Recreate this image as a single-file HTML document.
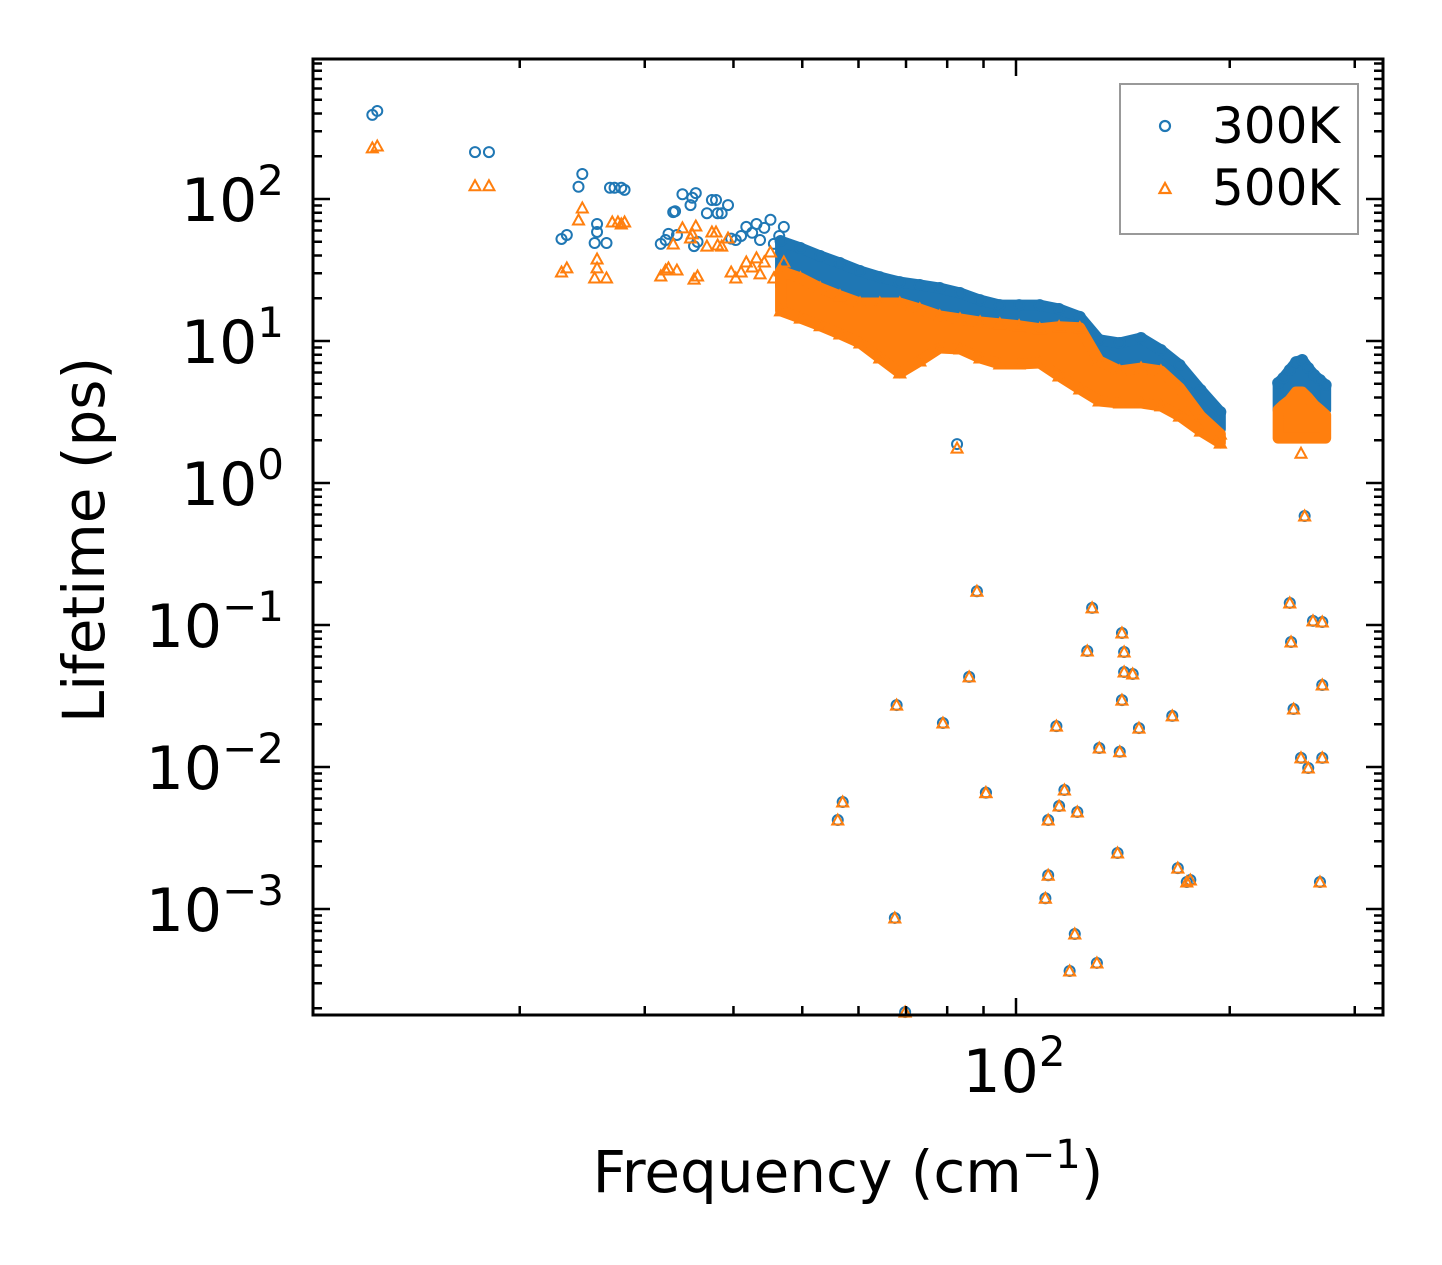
<!DOCTYPE html>
<html><head><meta charset="utf-8"><style>
html,body{margin:0;padding:0;background:#fff;}
svg{display:block;font-family:"DejaVu Sans","Liberation Sans",sans-serif;}
</style></head><body>
<svg id="chart" width="1442" height="1265" viewBox="0 0 1442 1265" xmlns="http://www.w3.org/2000/svg">
<rect x="0" y="0" width="1442" height="1265" fill="#fff"/>
<g id="marks"></g>
<g id="axes"></g>
<text x="848" y="1192" font-size="58" text-anchor="middle">Frequency (cm<tspan dy="-24" font-size="40">−1</tspan><tspan dy="24">)</tspan></text>
<text transform="translate(104,540) rotate(-90)" font-size="58" text-anchor="middle">Lifetime (ps)</text>
<g>
<rect x="1120" y="84" width="238" height="150" fill="#fff" stroke="#999" stroke-width="2"/>
<circle cx="1165" cy="126" r="5" fill="none" stroke="#1f77b4" stroke-width="2.2"/>
<text x="1212" y="143" font-size="50">300K</text>
<polygon points="1165,183 1170.5,193 1159.5,193" fill="none" stroke="#ff7f0e" stroke-width="2.2"/>
<text x="1212" y="205" font-size="50">500K</text>
</g>
</svg>
<script>
// Band frequencies (cm^-1)
const bandFreq = [46.6,49.7,53.0,56.5,60.3,64.3,68.6,73.2,78.1,83.4,89.0,94.9,101,108,115,123,131,140,150,160,170,182,194];
const clusterFreq = [234,238,243,248,253,258,263,268,273];
// 300K band edges (ps)
const band300Top = [50.6,45.2,39.7,35.4,31.1,28.2,26.0,24.8,23.6,21.8,19.4,17.9,17.9,17.9,16.8,14.8,10.2,9.68,10.5,8.64,6.78,4.52,3.16];
const band300Bottom = [24.4,21.8,18.5,16.3,14.5,14.5,14.5,13.2,11.8,11.2,10.7,10.3,10.0,9.53,9.84,9.68,5.67,4.82,5.06,4.82,3.66,2.6,2.4];
const cluster300Top = [5.06,5.49,6.25,7.1,7.35,6.45,5.76,5.31,4.9];
const cluster300Bottom = [3.27,3.27,3.27,3.27,3.27,3.27,3.27,3.27,3.27];
// 500K band edges (ps)
const band500Top = [31.1,27.8,23.6,20.8,18.5,18.5,18.5,16.8,15.0,14.3,13.6,13.2,12.8,12.2,12.6,12.4,7.23,6.15,6.45,6.15,4.67,2.96,2.21];
const band500Bottom = [16.3,14.5,12.8,11.2,9.68,7.59,5.95,7.23,8.93,8.79,7.59,6.89,6.89,7.00,5.67,4.59,3.78,3.66,3.66,3.49,2.96,2.32,1.91];
const cluster500Top = [3.27,3.54,3.84,4.37,4.37,3.97,3.54,3.27,3.01];
const cluster500Bottom = [2.07,2.07,2.07,2.07,2.07,2.07,2.07,2.07,2.07];
// sparse low-frequency points
const sparse300F = [12.4,12.6,17.3,18.1,22.9,23.3,24.2,24.5,25.7,25.7,25.5,26.5,26.8,27.2,27.8,28.1,31.6,32.1,32.4,32.9,33.1,33.3,33.9,34.8,35.0,35.4,35.2,35.6,36.7,37.3,37.8,38.0,38.5,39.3,39.7,40.3,41.0,41.7,42.5,43.1,43.6,44.2,45.1,45.6,46.4,47.1,82.6];
const sparse300L = [391,417,214,214,52.3,55.8,122,150,66.7,58.6,49,49,120,120,120,116,48.3,51.4,56.8,80.9,82,55.8,108,90.6,102,110,46.6,49.9,79.4,98.4,98.4,79.4,79.4,90.6,52.6,51.4,54.9,63.6,57.8,66.7,51.4,62.6,71.4,48.3,54.9,63.6,1.88];
const sparse500F = [12.4,12.6,17.3,18.1,22.9,23.3,24.2,24.5,25.7,25.7,25.5,26.5,27.0,27.5,27.8,28.1,31.6,32.1,32.4,32.9,33.3,33.9,34.8,35.0,35.4,35.2,35.6,36.7,37.3,37.8,38.0,38.5,39.3,39.7,40.3,41.0,41.7,42.5,43.1,43.6,44.2,45.1,45.6,46.4,47.1,82.6,252];
const sparse500L = [229,236,124,124,30.6,32.7,71.1,86.5,37.8,32.7,27.8,27.8,68.9,68.9,66.7,68.9,28.7,31.6,32.7,48.2,31.6,62.6,53.1,56.8,64.5,27.3,28.7,46.6,58.6,58.6,47.4,46.6,53.1,30.6,27.8,30.6,36.0,33.2,38.5,29.7,36.0,42.3,27.8,31.6,36.0,1.76,1.62];
// sparse very-short lifetime points (both temperatures)
const lowF = [90.7,88.1,85.9,78.9,90.7,67.9,56.1,57.0,67.5,69.8,114,111,115,117,122,111,110,121,119,130,126,128,131,140,141,141,142,142,146,149,139,166,169,174,176,255,243,244,246,252,258,262,270,270,270,268];
const low300 = [0.0066,0.173,0.0431,0.0204,0.0066,0.0273,0.00423,0.00567,0.000865,0.000188,0.0194,0.00423,0.00531,0.00689,0.00482,0.00173,0.00119,0.000667,0.000366,0.000417,0.0656,0.132,0.0136,0.0128,0.0296,0.0879,0.0646,0.0467,0.0452,0.0188,0.00248,0.0229,0.00194,0.00155,0.0016,0.586,0.143,0.0759,0.0256,0.0116,0.00984,0.107,0.105,0.0378,0.0116,0.00155];
const low500 = low300;

const NS = "http://www.w3.org/2000/svg";
const X0 = 313, X1 = 1383, Y0 = 59, Y1 = 1015;
const xLogMin = 2 + (X0 - 1016) / 710, xLogMax = 2 + (X1 - 1016) / 710;
const yLogMax = 2 + (199 - Y0) / 142, yLogMin = -3 - (Y1 - 909) / 142;
function xScale(f){ return X0 + (Math.log10(f) - xLogMin) / (xLogMax - xLogMin) * (X1 - X0); }
function yScale(v){ return Y1 - (Math.log10(v) - yLogMin) / (yLogMax - yLogMin) * (Y1 - Y0); }

const marks = document.getElementById('marks');
function circle(f, v){
  const c = document.createElementNS(NS, 'circle');
  c.setAttribute('cx', xScale(f)); c.setAttribute('cy', yScale(v)); c.setAttribute('r', 5);
  c.setAttribute('fill', 'none'); c.setAttribute('stroke', '#1f77b4'); c.setAttribute('stroke-width', 2);
  
  
  marks.appendChild(c);
}
function tri(f, v){
  const x = xScale(f), y = yScale(v);
  const p = document.createElementNS(NS, 'polygon');
  p.setAttribute('points', `${x},${y-5.5} ${x+5.5},${y+4.5} ${x-5.5},${y+4.5}`);
  p.setAttribute('fill', 'none'); p.setAttribute('stroke', '#ff7f0e'); p.setAttribute('stroke-width', 2);
  
  
  marks.appendChild(p);
}
function band(fs, top, bottom, color, name){
  const pts = [];
  for (let i = 0; i < fs.length; i++) pts.push(xScale(fs[i]) + ',' + yScale(top[i]));
  for (let i = fs.length - 1; i >= 0; i--) pts.push(xScale(fs[i]) + ',' + yScale(bottom[i]));
  const p = document.createElementNS(NS, 'polygon');
  p.setAttribute('points', pts.join(' '));
  p.setAttribute('fill', color); p.setAttribute('stroke', color);
  p.setAttribute('stroke-width', 11); p.setAttribute('stroke-linejoin', 'round');
  
  
  marks.appendChild(p);
}
function drawPairs(fs, vs, fn){ for (let i = 0; i < fs.length && i < vs.length; i++) fn(fs[i], vs[i]); }
// 300K
drawPairs(sparse300F, sparse300L, circle);
band(bandFreq, band300Top, band300Bottom, '#1f77b4', 'band-300k');
band(clusterFreq, cluster300Top, cluster300Bottom, '#1f77b4', 'cluster-300k');
drawPairs(bandFreq, band300Top, circle);
drawPairs(clusterFreq, cluster300Top, circle);
drawPairs(lowF, low300, circle);
// 500K
drawPairs(sparse500F, sparse500L, tri);
band(bandFreq, band500Top, band500Bottom, '#ff7f0e', 'band-500k');
band(clusterFreq, cluster500Top, cluster500Bottom, '#ff7f0e', 'cluster-500k');
drawPairs(bandFreq, band500Top, tri);
drawPairs(bandFreq, band500Bottom, tri);
drawPairs(lowF, low500, tri);

// axes
const axes = document.getElementById('axes');
function line(x1,y1,x2,y2,w,name){
  const l = document.createElementNS(NS,'line');
  l.setAttribute('x1',x1);l.setAttribute('y1',y1);l.setAttribute('x2',x2);l.setAttribute('y2',y2);
  l.setAttribute('stroke','#000');l.setAttribute('stroke-width',w);
  
  
  axes.appendChild(l);
}
const yMajor = [-3,-2,-1,0,1,2];
const yLabels = ['−3','−2','−1','0','1','2'];
for (let d = -4; d <= 2; d++) {
  for (let m = 1; m <= 9; m++) {
    const v = m * Math.pow(10, d);
    const y = yScale(v);
    if (y < Y0 || y > Y1) continue;
    const L = m === 1 ? 17 : 9;
    line(X0, y, X0 + L, y, 2.5, 'y-tick');
    line(X1, y, X1 - L, y, 2.5, 'y-tick-right');
  }
}
yMajor.forEach((e, i) => {
  const t = document.createElementNS(NS,'text');
  t.setAttribute('x', 284); t.setAttribute('y', yScale(Math.pow(10,e)) + 22);
  t.setAttribute('font-size', 60); t.setAttribute('text-anchor', 'end');
  
  
  t.innerHTML = '10<tspan dy="-26" font-size="42">' + yLabels[i] + '</tspan>';
  axes.appendChild(t);
});
for (let d = 1; d <= 2; d++) {
  for (let m = 1; m <= 9; m++) {
    const f = m * Math.pow(10, d);
    const x = xScale(f);
    if (x < X0 || x > X1) continue;
    const L = m === 1 ? 17 : 9;
    line(x, Y1, x, Y1 - L, 2.5, 'x-tick');
    line(x, Y0, x, Y0 + L, 2.5, 'x-tick-top');
  }
}
const xt = document.createElementNS(NS,'text');
xt.setAttribute('x', 1014); xt.setAttribute('y', 1092);
xt.setAttribute('font-size', 60); xt.setAttribute('text-anchor', 'middle');


xt.innerHTML = '10<tspan dy="-26" font-size="42">2</tspan>';
axes.appendChild(xt);
const frame = document.createElementNS(NS,'rect');
frame.setAttribute('x',X0);frame.setAttribute('y',Y0);frame.setAttribute('width',X1-X0);frame.setAttribute('height',Y1-Y0);
frame.setAttribute('fill','none');frame.setAttribute('stroke','#000');frame.setAttribute('stroke-width',3);


axes.appendChild(frame);
</script>
</body></html>
